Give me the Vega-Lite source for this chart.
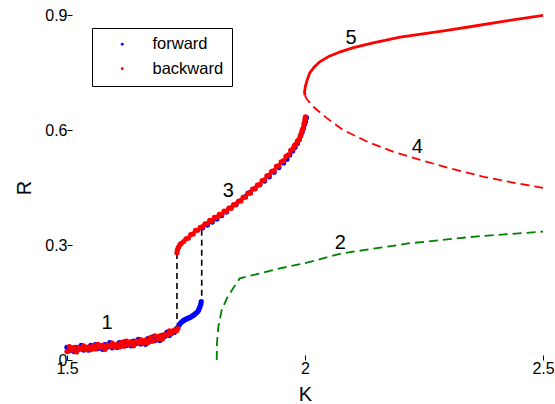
{
  "$schema": "https://vega.github.io/schema/vega-lite/v6.json",
  "width": 476,
  "height": 345,
  "autosize": {"type": "none"},
  "padding": {"left": 67, "top": 15, "right": 12, "bottom": 44},
  "background": "white",
  "config": {
    "view": {"stroke": null},
    "font": "Liberation Sans",
    "axis": {
      "grid": false,
      "domain": false,
      "ticks": true,
      "tickColor": "#000000",
      "tickOpacity": 1,
      "tickWidth": 1,
      "tickSize": -5,
      "labelColor": "black",
      "labelFont": "Liberation Sans",
      "labelFontSize": 16,
      "labelFlush": false,
      "labelOverlap": false,
      "titleFont": "Liberation Sans",
      "titleFontSize": 20,
      "titleFontWeight": "normal",
      "titleColor": "black"
    }
  },
  "datasets": {
    "pts": [
      {"series": "forward", "K": 1.500, "R": 0.033},
      {"series": "forward", "K": 1.505, "R": 0.024},
      {"series": "forward", "K": 1.510, "R": 0.030},
      {"series": "forward", "K": 1.515, "R": 0.022},
      {"series": "forward", "K": 1.520, "R": 0.033},
      {"series": "forward", "K": 1.525, "R": 0.028},
      {"series": "forward", "K": 1.530, "R": 0.038},
      {"series": "forward", "K": 1.535, "R": 0.026},
      {"series": "forward", "K": 1.540, "R": 0.032},
      {"series": "forward", "K": 1.545, "R": 0.026},
      {"series": "forward", "K": 1.550, "R": 0.038},
      {"series": "forward", "K": 1.555, "R": 0.030},
      {"series": "forward", "K": 1.560, "R": 0.040},
      {"series": "forward", "K": 1.565, "R": 0.030},
      {"series": "forward", "K": 1.570, "R": 0.037},
      {"series": "forward", "K": 1.575, "R": 0.028},
      {"series": "forward", "K": 1.580, "R": 0.040},
      {"series": "forward", "K": 1.585, "R": 0.034},
      {"series": "forward", "K": 1.590, "R": 0.045},
      {"series": "forward", "K": 1.595, "R": 0.032},
      {"series": "forward", "K": 1.600, "R": 0.039},
      {"series": "forward", "K": 1.605, "R": 0.033},
      {"series": "forward", "K": 1.610, "R": 0.045},
      {"series": "forward", "K": 1.615, "R": 0.037},
      {"series": "forward", "K": 1.620, "R": 0.047},
      {"series": "forward", "K": 1.625, "R": 0.038},
      {"series": "forward", "K": 1.630, "R": 0.045},
      {"series": "forward", "K": 1.635, "R": 0.037},
      {"series": "forward", "K": 1.640, "R": 0.049},
      {"series": "forward", "K": 1.645, "R": 0.043},
      {"series": "forward", "K": 1.650, "R": 0.054},
      {"series": "forward", "K": 1.655, "R": 0.042},
      {"series": "forward", "K": 1.660, "R": 0.049},
      {"series": "forward", "K": 1.665, "R": 0.041},
      {"series": "forward", "K": 1.670, "R": 0.056},
      {"series": "forward", "K": 1.675, "R": 0.049},
      {"series": "forward", "K": 1.680, "R": 0.060},
      {"series": "forward", "K": 1.685, "R": 0.051},
      {"series": "forward", "K": 1.690, "R": 0.059},
      {"series": "forward", "K": 1.695, "R": 0.051},
      {"series": "forward", "K": 1.700, "R": 0.064},
      {"series": "forward", "K": 1.705, "R": 0.061},
      {"series": "forward", "K": 1.710, "R": 0.072},
      {"series": "forward", "K": 1.715, "R": 0.064},
      {"series": "forward", "K": 1.720, "R": 0.074},
      {"series": "forward", "K": 1.725, "R": 0.072},
      {"series": "forward", "K": 1.730, "R": 0.081},
      {"series": "forward", "K": 1.733, "R": 0.086},
      {"series": "forward", "K": 1.736, "R": 0.092},
      {"series": "forward", "K": 1.739, "R": 0.097},
      {"series": "forward", "K": 1.742, "R": 0.100},
      {"series": "forward", "K": 1.745, "R": 0.103},
      {"series": "forward", "K": 1.748, "R": 0.105},
      {"series": "forward", "K": 1.751, "R": 0.107},
      {"series": "forward", "K": 1.754, "R": 0.109},
      {"series": "forward", "K": 1.757, "R": 0.110},
      {"series": "forward", "K": 1.760, "R": 0.112},
      {"series": "forward", "K": 1.763, "R": 0.115},
      {"series": "forward", "K": 1.766, "R": 0.117},
      {"series": "forward", "K": 1.769, "R": 0.120},
      {"series": "forward", "K": 1.772, "R": 0.123},
      {"series": "forward", "K": 1.775, "R": 0.127},
      {"series": "forward", "K": 1.777, "R": 0.132},
      {"series": "forward", "K": 1.779, "R": 0.138},
      {"series": "forward", "K": 1.781, "R": 0.145},
      {"series": "forward", "K": 1.782, "R": 0.152},
      {"series": "forward", "K": 1.785, "R": 0.345},
      {"series": "forward", "K": 1.795, "R": 0.352},
      {"series": "forward", "K": 1.805, "R": 0.360},
      {"series": "forward", "K": 1.815, "R": 0.368},
      {"series": "forward", "K": 1.825, "R": 0.377},
      {"series": "forward", "K": 1.835, "R": 0.386},
      {"series": "forward", "K": 1.845, "R": 0.397},
      {"series": "forward", "K": 1.855, "R": 0.406},
      {"series": "forward", "K": 1.865, "R": 0.416},
      {"series": "forward", "K": 1.875, "R": 0.426},
      {"series": "forward", "K": 1.885, "R": 0.437},
      {"series": "forward", "K": 1.895, "R": 0.447},
      {"series": "forward", "K": 1.905, "R": 0.457},
      {"series": "forward", "K": 1.915, "R": 0.467},
      {"series": "forward", "K": 1.925, "R": 0.478},
      {"series": "forward", "K": 1.935, "R": 0.490},
      {"series": "forward", "K": 1.945, "R": 0.502},
      {"series": "forward", "K": 1.955, "R": 0.514},
      {"series": "forward", "K": 1.962, "R": 0.524},
      {"series": "forward", "K": 1.968, "R": 0.535},
      {"series": "forward", "K": 1.974, "R": 0.545},
      {"series": "forward", "K": 1.979, "R": 0.555},
      {"series": "forward", "K": 1.984, "R": 0.565},
      {"series": "forward", "K": 1.988, "R": 0.575},
      {"series": "forward", "K": 1.991, "R": 0.585},
      {"series": "forward", "K": 1.994, "R": 0.595},
      {"series": "forward", "K": 1.997, "R": 0.605},
      {"series": "forward", "K": 1.999, "R": 0.615},
      {"series": "forward", "K": 2.001, "R": 0.622},
      {"series": "forward", "K": 2.003, "R": 0.632},
      {"series": "backward", "K": 1.500, "R": 0.022},
      {"series": "backward", "K": 1.505, "R": 0.035},
      {"series": "backward", "K": 1.510, "R": 0.026},
      {"series": "backward", "K": 1.515, "R": 0.033},
      {"series": "backward", "K": 1.520, "R": 0.021},
      {"series": "backward", "K": 1.525, "R": 0.033},
      {"series": "backward", "K": 1.530, "R": 0.029},
      {"series": "backward", "K": 1.535, "R": 0.037},
      {"series": "backward", "K": 1.540, "R": 0.027},
      {"series": "backward", "K": 1.545, "R": 0.034},
      {"series": "backward", "K": 1.550, "R": 0.027},
      {"series": "backward", "K": 1.555, "R": 0.038},
      {"series": "backward", "K": 1.560, "R": 0.029},
      {"series": "backward", "K": 1.565, "R": 0.041},
      {"series": "backward", "K": 1.570, "R": 0.033},
      {"series": "backward", "K": 1.575, "R": 0.039},
      {"series": "backward", "K": 1.580, "R": 0.028},
      {"series": "backward", "K": 1.585, "R": 0.039},
      {"series": "backward", "K": 1.590, "R": 0.036},
      {"series": "backward", "K": 1.595, "R": 0.044},
      {"series": "backward", "K": 1.600, "R": 0.034},
      {"series": "backward", "K": 1.605, "R": 0.041},
      {"series": "backward", "K": 1.610, "R": 0.034},
      {"series": "backward", "K": 1.615, "R": 0.046},
      {"series": "backward", "K": 1.620, "R": 0.036},
      {"series": "backward", "K": 1.625, "R": 0.049},
      {"series": "backward", "K": 1.630, "R": 0.041},
      {"series": "backward", "K": 1.635, "R": 0.048},
      {"series": "backward", "K": 1.640, "R": 0.037},
      {"series": "backward", "K": 1.645, "R": 0.049},
      {"series": "backward", "K": 1.650, "R": 0.045},
      {"series": "backward", "K": 1.655, "R": 0.053},
      {"series": "backward", "K": 1.660, "R": 0.044},
      {"series": "backward", "K": 1.665, "R": 0.052},
      {"series": "backward", "K": 1.670, "R": 0.045},
      {"series": "backward", "K": 1.675, "R": 0.058},
      {"series": "backward", "K": 1.680, "R": 0.049},
      {"series": "backward", "K": 1.685, "R": 0.063},
      {"series": "backward", "K": 1.690, "R": 0.055},
      {"series": "backward", "K": 1.695, "R": 0.063},
      {"series": "backward", "K": 1.700, "R": 0.055},
      {"series": "backward", "K": 1.705, "R": 0.066},
      {"series": "backward", "K": 1.710, "R": 0.065},
      {"series": "backward", "K": 1.715, "R": 0.076},
      {"series": "backward", "K": 1.720, "R": 0.069},
      {"series": "backward", "K": 1.725, "R": 0.078},
      {"series": "backward", "K": 1.730, "R": 0.076},
      {"series": "backward", "K": 1.733, "R": 0.082},
      {"series": "backward", "K": 1.731, "R": 0.280},
      {"series": "backward", "K": 1.732, "R": 0.287},
      {"series": "backward", "K": 1.734, "R": 0.294},
      {"series": "backward", "K": 1.737, "R": 0.300},
      {"series": "backward", "K": 1.740, "R": 0.304},
      {"series": "backward", "K": 1.745, "R": 0.309},
      {"series": "backward", "K": 1.750, "R": 0.316},
      {"series": "backward", "K": 1.755, "R": 0.318},
      {"series": "backward", "K": 1.760, "R": 0.327},
      {"series": "backward", "K": 1.765, "R": 0.329},
      {"series": "backward", "K": 1.770, "R": 0.338},
      {"series": "backward", "K": 1.775, "R": 0.339},
      {"series": "backward", "K": 1.780, "R": 0.346},
      {"series": "backward", "K": 1.785, "R": 0.348},
      {"series": "backward", "K": 1.790, "R": 0.355},
      {"series": "backward", "K": 1.795, "R": 0.356},
      {"series": "backward", "K": 1.800, "R": 0.364},
      {"series": "backward", "K": 1.805, "R": 0.364},
      {"series": "backward", "K": 1.810, "R": 0.372},
      {"series": "backward", "K": 1.815, "R": 0.372},
      {"series": "backward", "K": 1.820, "R": 0.380},
      {"series": "backward", "K": 1.825, "R": 0.380},
      {"series": "backward", "K": 1.830, "R": 0.388},
      {"series": "backward", "K": 1.835, "R": 0.388},
      {"series": "backward", "K": 1.840, "R": 0.396},
      {"series": "backward", "K": 1.845, "R": 0.396},
      {"series": "backward", "K": 1.850, "R": 0.405},
      {"series": "backward", "K": 1.855, "R": 0.405},
      {"series": "backward", "K": 1.860, "R": 0.414},
      {"series": "backward", "K": 1.865, "R": 0.415},
      {"series": "backward", "K": 1.870, "R": 0.424},
      {"series": "backward", "K": 1.875, "R": 0.425},
      {"series": "backward", "K": 1.880, "R": 0.435},
      {"series": "backward", "K": 1.885, "R": 0.435},
      {"series": "backward", "K": 1.890, "R": 0.446},
      {"series": "backward", "K": 1.895, "R": 0.447},
      {"series": "backward", "K": 1.900, "R": 0.456},
      {"series": "backward", "K": 1.905, "R": 0.458},
      {"series": "backward", "K": 1.910, "R": 0.468},
      {"series": "backward", "K": 1.915, "R": 0.470},
      {"series": "backward", "K": 1.920, "R": 0.480},
      {"series": "backward", "K": 1.925, "R": 0.482},
      {"series": "backward", "K": 1.930, "R": 0.492},
      {"series": "backward", "K": 1.935, "R": 0.494},
      {"series": "backward", "K": 1.940, "R": 0.505},
      {"series": "backward", "K": 1.945, "R": 0.507},
      {"series": "backward", "K": 1.950, "R": 0.517},
      {"series": "backward", "K": 1.955, "R": 0.520},
      {"series": "backward", "K": 1.960, "R": 0.531},
      {"series": "backward", "K": 1.965, "R": 0.535},
      {"series": "backward", "K": 1.970, "R": 0.547},
      {"series": "backward", "K": 1.975, "R": 0.552},
      {"series": "backward", "K": 1.978, "R": 0.560},
      {"series": "backward", "K": 1.981, "R": 0.563},
      {"series": "backward", "K": 1.984, "R": 0.571},
      {"series": "backward", "K": 1.987, "R": 0.574},
      {"series": "backward", "K": 1.990, "R": 0.584},
      {"series": "backward", "K": 1.992, "R": 0.590},
      {"series": "backward", "K": 1.994, "R": 0.599},
      {"series": "backward", "K": 1.996, "R": 0.604},
      {"series": "backward", "K": 1.998, "R": 0.615},
      {"series": "backward", "K": 1.999, "R": 0.620},
      {"series": "backward", "K": 2.000, "R": 0.628},
      {"series": "backward", "K": 2.001, "R": 0.634}
    ],
    "curves": [
      {"curve": "5", "i": 0, "K": 2.000, "R": 0.690},
      {"curve": "5", "i": 1, "K": 1.999, "R": 0.700},
      {"curve": "5", "i": 2, "K": 2.001, "R": 0.715},
      {"curve": "5", "i": 3, "K": 2.005, "R": 0.732},
      {"curve": "5", "i": 4, "K": 2.010, "R": 0.749},
      {"curve": "5", "i": 5, "K": 2.020, "R": 0.765},
      {"curve": "5", "i": 6, "K": 2.031, "R": 0.778},
      {"curve": "5", "i": 7, "K": 2.050, "R": 0.792},
      {"curve": "5", "i": 8, "K": 2.074, "R": 0.804},
      {"curve": "5", "i": 9, "K": 2.100, "R": 0.814},
      {"curve": "5", "i": 10, "K": 2.143, "R": 0.827},
      {"curve": "5", "i": 11, "K": 2.200, "R": 0.842},
      {"curve": "5", "i": 12, "K": 2.288, "R": 0.858},
      {"curve": "5", "i": 13, "K": 2.350, "R": 0.870},
      {"curve": "5", "i": 14, "K": 2.420, "R": 0.884},
      {"curve": "5", "i": 15, "K": 2.500, "R": 0.899},
      {"curve": "4", "i": 0, "K": 2.000, "R": 0.690},
      {"curve": "4", "i": 1, "K": 2.004, "R": 0.680},
      {"curve": "4", "i": 2, "K": 2.017, "R": 0.661},
      {"curve": "4", "i": 3, "K": 2.046, "R": 0.631},
      {"curve": "4", "i": 4, "K": 2.080, "R": 0.600},
      {"curve": "4", "i": 5, "K": 2.130, "R": 0.570},
      {"curve": "4", "i": 6, "K": 2.186, "R": 0.543},
      {"curve": "4", "i": 7, "K": 2.242, "R": 0.522},
      {"curve": "4", "i": 8, "K": 2.305, "R": 0.500},
      {"curve": "4", "i": 9, "K": 2.375, "R": 0.478},
      {"curve": "4", "i": 10, "K": 2.445, "R": 0.461},
      {"curve": "4", "i": 11, "K": 2.500, "R": 0.449},
      {"curve": "2", "i": 0, "K": 1.8145, "R": 0.000},
      {"curve": "2", "i": 1, "K": 1.8150, "R": 0.043},
      {"curve": "2", "i": 2, "K": 1.818, "R": 0.087},
      {"curve": "2", "i": 3, "K": 1.825, "R": 0.130},
      {"curve": "2", "i": 4, "K": 1.836, "R": 0.161},
      {"curve": "2", "i": 5, "K": 1.849, "R": 0.187},
      {"curve": "2", "i": 6, "K": 1.863, "R": 0.213},
      {"curve": "2", "i": 7, "K": 1.899, "R": 0.224},
      {"curve": "2", "i": 8, "K": 1.940, "R": 0.237},
      {"curve": "2", "i": 9, "K": 2.004, "R": 0.254},
      {"curve": "2", "i": 10, "K": 2.077, "R": 0.278},
      {"curve": "2", "i": 11, "K": 2.217, "R": 0.304},
      {"curve": "2", "i": 12, "K": 2.357, "R": 0.322},
      {"curve": "2", "i": 13, "K": 2.500, "R": 0.335},
      {"curve": "j1", "i": 0, "K": 1.731, "R": 0.279},
      {"curve": "j1", "i": 1, "K": 1.731, "R": 0.095},
      {"curve": "j2", "i": 0, "K": 1.783, "R": 0.340},
      {"curve": "j2", "i": 1, "K": 1.783, "R": 0.155}
    ],
    "labels": [
      {"text": "1", "K": 1.584, "R": 0.097},
      {"text": "2", "K": 2.074, "R": 0.306},
      {"text": "3", "K": 1.839, "R": 0.442},
      {"text": "4", "K": 2.236, "R": 0.556},
      {"text": "5", "K": 2.097, "R": 0.839}
    ]
  },
  "encoding": {
    "x": {"field": "K", "type": "quantitative",
      "scale": {"domain": [1.5, 2.5], "nice": false, "zero": false},
      "axis": {"values": [1.5, 2, 2.5], "format": "~g", "title": "K", "labelPadding": 5, "titlePadding": 8}},
    "y": {"field": "R", "type": "quantitative",
      "scale": {"domain": [0, 0.9], "nice": false},
      "axis": {"values": [0, 0.3, 0.6, 0.9], "format": "~g", "title": "R", "labelPadding": 5, "titlePadding": 10}}
  },
  "layer": [
    {
      "mark": {"type": "rule", "color": "black", "strokeWidth": 1.5},
      "encoding": {"x": {"datum": 1.5, "type": "quantitative"}, "x2": {"datum": 2.5}, "y": {"datum": 0.9, "type": "quantitative"}}
    },
    {
      "mark": {"type": "rule", "color": "black", "strokeWidth": 1.5},
      "encoding": {"x": {"datum": 1.5, "type": "quantitative"}, "x2": {"datum": 2.5}, "y": {"datum": 0, "type": "quantitative"}}
    },
    {
      "mark": {"type": "rule", "color": "black", "strokeWidth": 1.5},
      "encoding": {"x": {"datum": 1.5, "type": "quantitative"}, "y": {"datum": 0, "type": "quantitative"}, "y2": {"datum": 0.9}}
    },
    {
      "mark": {"type": "rule", "color": "black", "strokeWidth": 1.5},
      "encoding": {"x": {"datum": 2.5, "type": "quantitative"}, "y": {"datum": 0, "type": "quantitative"}, "y2": {"datum": 0.9}}
    },
    {
      "data": {"name": "curves"},
      "transform": [{"filter": "datum.curve === 'j1' || datum.curve === 'j2'"}],
      "mark": {"type": "line", "color": "black", "strokeWidth": 1.6, "strokeDash": [6, 4]},
      "encoding": {
        "detail": {"field": "curve"},
        "order": {"field": "i"}
      }
    },
    {
      "data": {"name": "pts"},
      "mark": {"type": "circle", "size": 28, "opacity": 1},
      "encoding": {
        "color": {"field": "series", "type": "nominal",
          "scale": {"domain": ["forward", "backward"], "range": ["#0000ff", "#ff0000"]},
          "legend": {"orient": "none", "legendX": 25, "legendY": 13, "title": null,
            "strokeColor": "black", "fillColor": "white", "padding": 8,
            "symbolType": "circle", "symbolSize": 8, "symbolOffset": 14, "labelOffset": 22,
            "labelFontSize": 16.5, "labelFont": "Liberation Sans", "labelColor": "black", "rowPadding": 7.5}}
      }
    },
    {
      "data": {"name": "curves"},
      "transform": [{"filter": "datum.curve === '2'"}],
      "mark": {"type": "line", "color": "#008000", "strokeWidth": 1.8, "strokeDash": [9, 5]},
      "encoding": {"order": {"field": "i"}}
    },
    {
      "data": {"name": "curves"},
      "transform": [{"filter": "datum.curve === '4'"}],
      "mark": {"type": "line", "color": "#ff0000", "strokeWidth": 1.8, "strokeDash": [9, 5]},
      "encoding": {"order": {"field": "i"}}
    },
    {
      "data": {"name": "curves"},
      "transform": [{"filter": "datum.curve === '5'"}],
      "mark": {"type": "line", "color": "#ff0000", "strokeWidth": 2.8},
      "encoding": {"order": {"field": "i"}}
    },
    {
      "data": {"name": "labels"},
      "mark": {"type": "text", "fontSize": 20, "font": "Liberation Sans", "color": "black", "align": "center", "baseline": "middle"},
      "encoding": {"text": {"field": "text"}}
    }
  ]
}
